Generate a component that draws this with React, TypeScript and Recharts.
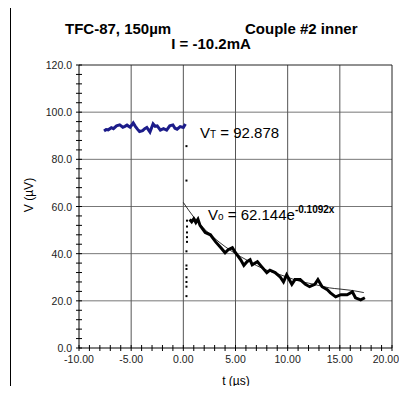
import { ComposedChart, Line, Scatter, XAxis, YAxis, ReferenceLine } from 'recharts';

// pre-pulse baseline (blue)
const baseT = [-7.6, -7.4, -7.2, -6.9, -6.7, -6.4, -6.1, -5.8, -5.6, -5.4, -5.1, -4.8, -4.6, -4.4, -4.2, -3.9, -3.7, -3.5, -3.2, -2.9, -2.7, -2.5, -2.2, -1.9, -1.6, -1.3, -1.0, -0.8, -0.6, -0.3, 0.0, 0.2];
const baseV = [92.0, 92.6, 92.5, 93.4, 93.0, 94.2, 94.6, 93.6, 94.0, 94.5, 93.6, 95.4, 94.0, 92.8, 91.8, 92.2, 93.0, 93.5, 91.6, 95.0, 94.0, 94.2, 92.4, 93.0, 92.4, 94.2, 94.6, 93.2, 92.8, 93.9, 93.5, 95.0];

// switching transient, sparse samples
const spikeT = [0.3, 0.3, 0.35, 0.35, 0.35, 0.35, 0.35, 0.3, 0.3, 0.3, 0.3, 0.3, 0.3, 0.3];
const spikeV = [85.6, 71, 54, 51.5, 49, 47, 45, 41, 35, 33.5, 30, 28, 26, 22];

// decay after pulse
const decayT = [0.6, 0.8, 1.0, 1.2, 1.4, 1.6, 2.1, 2.6, 3.1, 3.6, 4.0, 4.3, 4.7, 5.0, 5.5, 5.8, 6.1, 6.4, 6.6, 7.1, 7.5, 8.0, 8.3, 8.8, 9.3, 9.6, 9.9, 10.4, 10.7, 11.2, 11.7, 12.1, 12.6, 12.9, 13.3, 13.8, 14.1, 14.6, 15.1, 15.7, 16.2, 16.5, 17.0, 17.4];
const decayV = [54.5, 53.5, 54.8, 53.2, 54.6, 52, 49, 48, 45, 42.5, 40.4, 41.7, 42.5, 40.4, 37.4, 35, 36.6, 37.4, 35.3, 36.6, 34.5, 31.9, 33, 32, 30, 28, 31, 27, 29, 29, 27, 26, 27, 29, 26, 24.7, 23.4, 21.7, 22.6, 22.6, 23.8, 21.3, 20.4, 21.3];

// fitted trend line as drawn
const trendT = [0, 1, 2, 3, 4, 5, 6, 7, 8, 9, 10, 11, 12, 13, 14, 15, 16, 17.3];
const trendV = [61.7, 55.5, 50.5, 46.5, 43, 40, 37.5, 35, 33, 31.5, 30, 28.5, 27.5, 26.5, 25.5, 25, 24.5, 23.5];

const xMajor = [-10, -5, 0, 5, 10, 15, 20];
const yMajor = [0, 20, 40, 60, 80, 100, 120];

const zip = (ts: number[], vs: number[]) => ts.map((t, i) => ({ t, v: vs[i] }));
const baseData = zip(baseT, baseV);
const spikeData = zip(spikeT, spikeV);
const decayData = zip(decayT, decayV);
const trendData = zip(trendT, trendV);

const xTicks = Array.from({ length: 31 }, (_, i) => i - 10);
const yTicks = Array.from({ length: 31 }, (_, i) => i * 4);

const FONT = '"Liberation Sans", Arial, sans-serif';

const XTick = (props: any) => {
  const { x, y, payload } = props;
  const major = xMajor.includes(payload.value);
  // like Excel, the last label is pulled in to stay inside the chart area
  const last = payload.value === xMajor[xMajor.length - 1];
  return (
    <g>
      <line x1={x} x2={x} y1={y - 3} y2={y + 3} stroke="#000" />
      {major && (
        <text
          x={last ? x + 7 : x}
          y={y + 15}
          textAnchor={last ? 'end' : 'middle'}
          fontSize={10.5}
          fill="#222"
          fontFamily={FONT}
        >
          {payload.value.toFixed(2)}
        </text>
      )}
    </g>
  );
};

const YTick = (props: any) => {
  const { x, y, payload } = props;
  const major = yMajor.includes(payload.value);
  return (
    <g>
      <line x1={x - 3} x2={x + 3} y1={y} y2={y} stroke="#000" />
      {major && (
        <text x={x - 7} y={y + 4} textAnchor="end" fontSize={10.5} fill="#222" fontFamily={FONT}>
          {payload.value.toFixed(1)}
        </text>
      )}
    </g>
  );
};

const Dot = (props: any) => <rect x={props.cx - 1} y={props.cy - 1} width={2} height={2} fill="#000" />;

export default function App() {
  return (
    <div style={{ position: 'relative', width: 407, height: 394, margin: -8, background: '#fff', overflow: 'hidden' }}>
      <ComposedChart
        width={407}
        height={394}
        margin={{ top: 65, right: 15, bottom: 10, left: 10 }}
        style={{ position: 'absolute', left: 0, top: 0, overflow: 'visible' }}
      >
        <XAxis
          type="number"
          dataKey="t"
          domain={[-10, 20]}
          ticks={xTicks}
          interval={0}
          allowDataOverflow
          tickSize={0}
          tickMargin={0}
          height={36}
          stroke="#000"
          tick={<XTick />}
        />
        <YAxis
          type="number"
          dataKey="v"
          domain={[0, 120]}
          ticks={yTicks}
          interval={0}
          allowDataOverflow
          tickSize={0}
          tickMargin={0}
          width={69}
          stroke="#000"
          tick={<YTick />}
        />
        {yMajor.slice(1, -1).map((v) => (
          <ReferenceLine key={'h' + v} y={v} stroke="#777" strokeWidth={1} />
        ))}
        {xMajor.slice(1, -1).map((v) => (
          <ReferenceLine key={'v' + v} x={v} stroke="#555" strokeWidth={1} />
        ))}
        <ReferenceLine y={120} stroke="#222" />
        <ReferenceLine x={20} stroke="#222" />
        <Line data={trendData} dataKey="v" type="monotone" stroke="#000" strokeWidth={0.8} dot={false} isAnimationActive={false} />
        <Line data={baseData} dataKey="v" type="linear" stroke="#1c1c8a" strokeWidth={3} dot={false} isAnimationActive={false} />
        <Line data={decayData} dataKey="v" type="linear" stroke="#000" strokeWidth={3} dot={false} isAnimationActive={false} />
        <Scatter data={spikeData} dataKey="v" shape={<Dot />} isAnimationActive={false} />
      </ComposedChart>
      <svg width={407} height={394} style={{ position: 'absolute', left: 0, top: 0, pointerEvents: 'none' }} fontFamily={FONT}>
        <line x1={10.5} y1={7.5} x2={10.5} y2={394} stroke="#000" />
        <line x1={10} y1={7.5} x2={397} y2={7.5} stroke="#000" />
        <text x={65} y={34} fontSize={15} fontWeight="bold">TFC-87, 150µm</text>
        <text x={245} y={34} fontSize={15} fontWeight="bold">Couple #2 inner</text>
        <text x={211} y={49} fontSize={15} fontWeight="bold" textAnchor="middle">I = -10.2mA</text>
        <text x={33} y={195} fontSize={12} textAnchor="middle" transform="rotate(-90 33 195)">V (µV)</text>
        <text x={236} y={385} fontSize={12} textAnchor="middle">t (µs)</text>
        <text x={200} y={138} fontSize={15}>
          V<tspan fontSize={10}>T</tspan> = 92.878
        </text>
        <text x={208} y={220} fontSize={15}>
          V<tspan fontSize={10}>o</tspan> = 62.144e
          <tspan fontSize={10} fontWeight="bold" dy={-7}>-0.1092x</tspan>
        </text>
      </svg>
    </div>
  );
}
